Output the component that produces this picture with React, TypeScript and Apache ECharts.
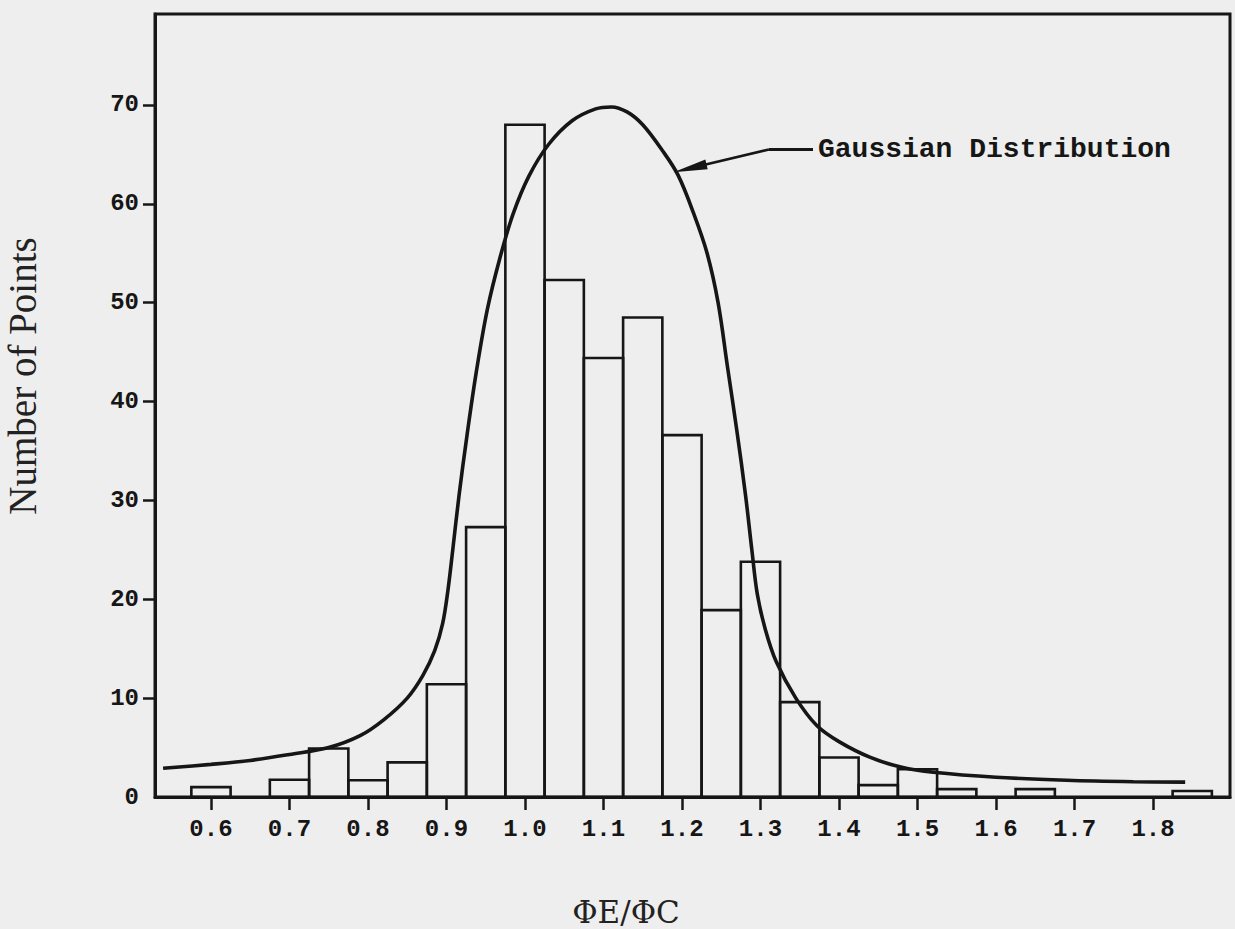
import React, { useEffect, useRef } from "react";
import * as echarts from "echarts";

// Histogram bins (centre of each 0.05-wide bin) and counts
const binCenters = [0.6, 0.7, 0.75, 0.8, 0.85, 0.9, 0.95, 1.0, 1.05, 1.1, 1.15, 1.2, 1.25, 1.3, 1.35, 1.4, 1.45, 1.5, 1.55, 1.65, 1.85];
const binCounts = [1.0, 1.75, 4.9, 1.7, 3.5, 11.4, 27.3, 68.0, 52.3, 44.4, 48.5, 36.6, 18.9, 23.8, 9.6, 4.0, 1.2, 2.8, 0.8, 0.8, 0.6];
const binWidth = 0.05;

// Fitted "Gaussian Distribution" curve
const gaussX = [0.539, 0.6, 0.65, 0.7, 0.75, 0.79, 0.82, 0.85, 0.87, 0.885, 0.895, 0.902, 0.908, 0.916, 0.926, 0.938, 0.952, 0.968, 0.985, 1.005, 1.03, 1.06, 1.09, 1.11, 1.13, 1.15, 1.175, 1.195, 1.215, 1.232, 1.246, 1.258, 1.27, 1.281, 1.289, 1.296, 1.306, 1.32, 1.345, 1.372, 1.4, 1.44, 1.48, 1.52, 1.6, 1.69, 1.775, 1.841];
const gaussY = [2.9, 3.3, 3.7, 4.3, 5.0, 6.2, 7.8, 10.0, 12.3, 14.8, 17.5, 21.0, 25.0, 30.5, 36.5, 43.0, 49.3, 54.5, 59.0, 62.8, 66.0, 68.4, 69.6, 69.8, 69.3, 68.0, 65.4, 62.9, 59.0, 55.0, 50.0, 43.5, 37.0, 30.5, 25.0, 20.5, 17.0, 13.7, 10.0, 7.2, 5.6, 4.0, 3.0, 2.5, 2.0, 1.7, 1.55, 1.5];

// Axis ticks
const xTickValues = [0.6, 0.7, 0.8, 0.9, 1.0, 1.1, 1.2, 1.3, 1.4, 1.5, 1.6, 1.7, 1.8];
const yLabelValues = [0, 10, 20, 30, 40, 50, 60, 70];
const yTickValues = [10, 20, 30, 40, 50, 60, 70];

// Annotation (arrow + label) in data coordinates
const annotStart = [1.2102, 63.6];
const annotElbow = [1.3108, 65.5];
const annotEnd = [1.3669, 65.5];
const annotText = "Gaussian Distribution";

const INK = "#161616";
const MONO = '"Liberation Mono", "DejaVu Sans Mono", monospace';

export default function App() {
  const ref = useRef<HTMLDivElement>(null);
  useEffect(() => {
    if (!ref.current) return;
    const chart = echarts.init(ref.current, null, { renderer: "svg" });
    const endLabel = {
      show: true,
      position: "end",
      distance: 5,
      formatter: annotText,
      color: INK,
      fontFamily: MONO,
      fontWeight: "bold",
      fontSize: 28,
    };
    chart.setOption({
      animation: false,
      backgroundColor: "#eeeeee",
      grid: {
        left: 155,
        right: 5,
        top: 14,
        bottom: 132,
        show: true,
        borderColor: INK,
        borderWidth: 3,
        backgroundColor: "transparent",
      },
      xAxis: {
        type: "value",
        min: 0.5287,
        max: 1.8981,
        axisLine: { show: true, onZero: false, lineStyle: { color: INK, width: 3 } },
        axisTick: { show: true, length: 13, lineStyle: { color: INK, width: 2.5 }, customValues: xTickValues },
        axisLabel: {
          customValues: xTickValues,
          formatter: (v: number) => v.toFixed(1),
          margin: 20,
          color: INK,
          fontFamily: MONO,
          fontWeight: "bold",
          fontSize: 24,
        },
        splitLine: { show: false },
      },
      yAxis: {
        type: "value",
        min: 0,
        max: 79.2,
        axisLine: { show: true, lineStyle: { color: INK, width: 3 } },
        axisTick: { show: true, length: 12, lineStyle: { color: INK, width: 2.5 }, customValues: yTickValues },
        axisLabel: {
          customValues: yLabelValues,
          margin: 16,
          color: INK,
          fontFamily: MONO,
          fontWeight: "bold",
          fontSize: 24,
        },
        splitLine: { show: false },
      },
      graphic: [
        {
          type: "text",
          x: 22,
          y: 376,
          rotation: Math.PI / 2,
          style: {
            text: "Number of Points",
            fill: "#222",
            fontSize: 39,
            fontFamily: '"Liberation Serif", serif',
            align: "center",
            verticalAlign: "middle",
            textAlign: "center",
            textVerticalAlign: "middle",
          },
        },
        {
          type: "text",
          x: 626,
          y: 912,
          style: {
            text: "ΦE/ΦC",
            fill: "#222",
            fontSize: 31,
            fontFamily: '"DejaVu Serif", serif',
            align: "center",
            verticalAlign: "middle",
            textAlign: "center",
            textVerticalAlign: "middle",
          },
        },
      ],
      series: [
        {
          type: "custom",
          name: "Histogram",
          data: binCenters.map((c, i) => [c, binCounts[i]]),
          z: 2,
          renderItem: (params: any, api: any) => {
            const x = api.value(0);
            const y = api.value(1);
            const p1 = api.coord([x - binWidth / 2, y]);
            const p2 = api.coord([x + binWidth / 2, 0]);
            return {
              type: "rect",
              shape: { x: p1[0], y: p1[1], width: p2[0] - p1[0], height: p2[1] - p1[1] },
              style: { fill: "none", stroke: INK, lineWidth: 2.6 },
            };
          },
        },
        {
          type: "line",
          name: annotText,
          data: gaussX.map((x, i) => [x, gaussY[i]]),
          showSymbol: false,
          smooth: 0.35,
          z: 3,
          lineStyle: { color: INK, width: 3.6 },
          emphasis: { disabled: true },
          markLine: {
            silent: true,
            animation: false,
            symbol: ["none", "none"],
            lineStyle: { color: INK, width: 2.6, type: "solid" },
            label: { show: false },
            emphasis: { disabled: true },
            data: [
              [
                { coord: annotStart, symbol: "triangle", symbolSize: [10, 34] },
                { coord: annotElbow, symbol: "none" },
              ],
              [
                { coord: annotElbow, symbol: "none", label: endLabel, lineStyle: { width: 3.2 } },
                { coord: annotEnd, symbol: "none", label: endLabel },
              ],
            ],
          },
        },
      ],
    });
    return () => chart.dispose();
  }, []);
  return (
    <div
      ref={ref}
      style={{ position: "fixed", left: 0, top: 0, width: 1235, height: 929 }}
    />
  );
}
